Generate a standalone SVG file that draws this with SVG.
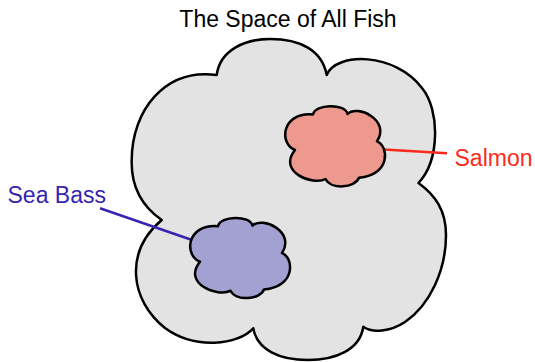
<svg xmlns="http://www.w3.org/2000/svg" xmlns:xlink="http://www.w3.org/1999/xlink" width="535" height="362" viewBox="0 0 535 362">
<style>
.t{font-family:"Liberation Sans",Arial,Helvetica,sans-serif;font-size:23px}
.outline{stroke:#000;stroke-width:2.5;stroke-linejoin:round}
.conn{fill:none;stroke-width:2.5}
</style>
<defs>
<path id="small" d="M0,0 C-16,-6 -14,-38 18,-35.5 C20,-46 50,-47 52.5,-36 C62,-46 96,-30 82,-8.7 C94,-4 96,25 64,27.8 C60,38 36,40 30.5,29 C18,36 -18,22 0,0 Z"/>
</defs>
<rect width="535" height="362" fill="#fff"/>
<text class="t" x="288" y="27" text-anchor="middle" fill="#000">The Space of All Fish</text>
<g id="space">
<path class="outline" fill="#e3e3e3" d="M216.7,75 C220,50 245,39 270,39 C300,39 322,50 326.7,75 C336,52 395,52 422,88 C440,110 440,160 418.5,183 C435,195 446,210 446,235 C446,270 430,305 405,322 C390,332 372,333 363.3,326.7 C360,350 335,360 308,360 C280,360 257,350 253.3,328.3 C238,345 195,350 165,328 C130,300 124,252 161.7,220 C140,205 131,185 131.7,160 C132,110 165,68 216.7,75 Z"/>
</g>
<g id="connectors">
<line class="conn" stroke="#fc2a1c" x1="384" y1="149.5" x2="447" y2="153.3"/>
<line class="conn" stroke="#3525b0" x1="100" y1="208.3" x2="193.5" y2="240.5"/>
</g>
<g id="salmon">
<use xlink:href="#small" href="#small" class="outline" fill="#ee998d" transform="translate(295,150)"/>
<text class="t" x="454.5" y="166" fill="#fc2a1c">Salmon</text>
</g>
<g id="seabass">
<use xlink:href="#small" href="#small" class="outline" fill="#a3a0d2" transform="translate(200,261.7)"/>
<text class="t" x="7.5" y="202.5" fill="#3525b0">Sea Bass</text>
</g>
</svg>
